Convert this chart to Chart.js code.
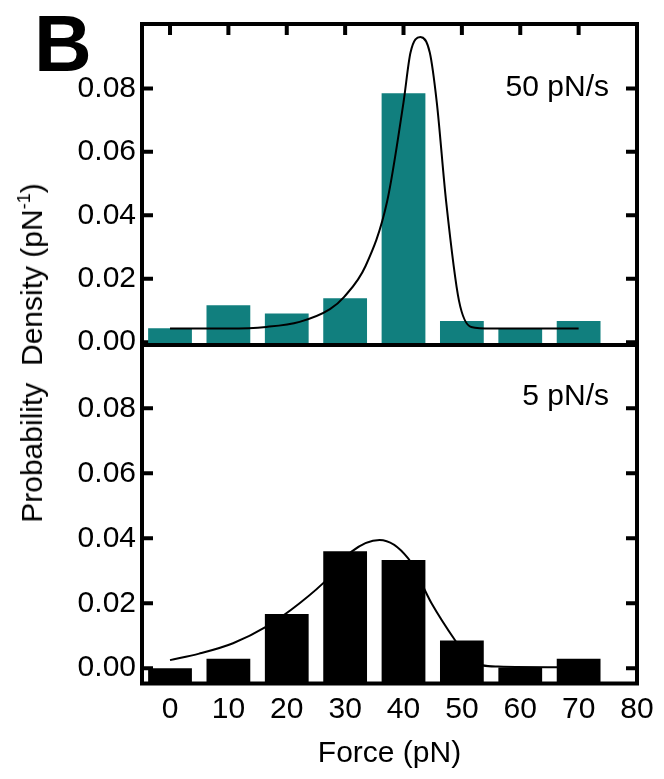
<html>
<head>
    <meta name="viewport" content="width=device-width, initial-scale=1.0">
    <title>Force histograms</title>
    <style>
        body { margin: 0; background: #fff; }
        #wrap { position: relative; width: 664px; height: 779px; font-family: 'Liberation Sans', Arial, sans-serif; color: #000; }
        canvas { position: absolute; left: 0; top: 0; }
        .txt { position: absolute; white-space: nowrap; font-size: 30px; line-height: 30px; }
        #panel { left: 34px; top: 4px; font-size: 80px; line-height: 80px; font-weight: bold; }
        #ytitle { left: 32px; top: 353px; transform: translate(-50%, -50%) rotate(-90deg); }
        #ytitle sup { font-size: 18px; line-height: 0; vertical-align: 12px; }
        #rate1 { right: 55px; top: 71px; }
        #rate2 { right: 55px; top: 380px; }
    </style>
</head>
<body>
<div id="wrap">
    <canvas id="topChart" width="664" height="779"></canvas>
    <canvas id="bottomChart" width="664" height="779"></canvas>
    <div class="txt" id="panel">B</div>
    <div class="txt" id="ytitle">Probability&nbsp; Density (pN<sup>-1</sup>)</div>
    <div class="txt" id="rate1">50 pN/s</div>
    <div class="txt" id="rate2">5 pN/s</div>
</div>
<script src="https://cdn.jsdelivr.net/npm/chart.js"></script>
<script>
    // histogram bins (pN)
    const forceBins = [0, 10, 20, 30, 40, 50, 60, 70]
    const xTicks = [0, 10, 20, 30, 40, 50, 60, 70, 80]
    const yTicks = [0, 0.02, 0.04, 0.06, 0.08]

    // 50 pN/s
    const fastDensity = [0.0044, 0.0116, 0.0090, 0.0138, 0.0785, 0.0067, 0.0044, 0.0067]
    const fastFitX = [0, 10, 16.5, 22.2, 27.4, 29.8, 33.5, 37.2, 40.0, 41.2, 42.9, 44.5, 45.7, 47.3, 49.5, 51.6, 55, 62, 70]
    const fastFitY = [0.0043, 0.0043, 0.0048, 0.0064, 0.0104, 0.0142, 0.0240, 0.0444, 0.0756, 0.0913, 0.0962, 0.0913, 0.0756, 0.0444, 0.0131, 0.0048, 0.0043, 0.0043, 0.0043]

    // 5 pN/s
    const slowDensity = [0.0000, 0.0029, 0.0167, 0.0360, 0.0333, 0.0085, 0.0002, 0.0029]
    const slowFitX = [0, 5, 10.8, 16.5, 22.2, 27.4, 31.1, 35.9, 40.8, 44.8, 48.8, 51.6, 56.2, 66.4, 70]
    const slowFitY = [0.0025, 0.0045, 0.0077, 0.0128, 0.0200, 0.0282, 0.0359, 0.0395, 0.0338, 0.0200, 0.0087, 0.0020, 0.0005, 0.0003, 0.0003]

    const TEAL = '#117f7e'
    const FONT = { family: "'Liberation Sans', Arial, sans-serif", size: 30 }

    // inward ticks + heavy frame
    const frame = {
        id: 'frame',
        beforeDatasetsDraw(chart, args, opts) {
            const { ctx, chartArea: a, scales } = chart
            ctx.save()
            ctx.strokeStyle = '#000'
            ctx.lineWidth = 4
            ctx.beginPath()
            yTicks.forEach(v => {
                const y = scales.y.getPixelForValue(v)
                ctx.moveTo(a.left, y); ctx.lineTo(a.left + 11, y)
                ctx.moveTo(a.right, y); ctx.lineTo(a.right - 11, y)
            })
            ;(opts.topTicks || []).forEach(v => {
                const x = scales.x.getPixelForValue(v)
                ctx.moveTo(x, a.top); ctx.lineTo(x, a.top + 11)
            })
            ;(opts.bottomTicks || []).forEach(v => {
                const x = scales.x.getPixelForValue(v)
                ctx.moveTo(x, a.bottom); ctx.lineTo(x, a.bottom - 11)
            })
            ctx.stroke()
            ctx.restore()
        },
        afterDatasetsDraw(chart) {
            const { ctx, chartArea: a } = chart
            ctx.save()
            ctx.strokeStyle = '#000'
            ctx.lineWidth = 4
            ctx.strokeRect(a.left, a.top, a.right - a.left, a.bottom - a.top)
            ctx.restore()
        }
    }

    const makeChart = (id, p) => {
        const bars = forceBins.map((x, i) => ({ x: x, y: p.density[i] }))
        const fit = p.fitX.map((x, i) => ({ x: x, y: p.fitY[i] }))

        const xAxis = {
            type: 'linear',
            min: -4.8,
            max: 80,
            offset: false,
            display: p.showX,
            afterBuildTicks: s => { s.ticks = xTicks.map(v => ({ value: v })) },
            grid: { display: false, drawTicks: false },
            border: { display: false },
            ticks: { font: FONT, color: '#000', padding: 8, maxRotation: 0, autoSkip: false },
            title: { display: true, text: 'Force (pN)', font: FONT, color: '#000', padding: { top: 0, bottom: 7 } },
            afterFit: s => { if (p.showX) s.height = 95.5 }
        }

        new Chart(document.getElementById(id), {
            type: 'bar',
            data: {
                datasets: [{
                    type: 'line',
                    data: fit,
                    borderColor: '#000',
                    borderWidth: 2,
                    pointRadius: 0,
                    cubicInterpolationMode: 'monotone',
                    order: 0
                }, {
                    type: 'bar',
                    data: bars,
                    backgroundColor: p.color,
                    base: p.yMin,
                    barPercentage: 0.75,
                    categoryPercentage: 1,
                    order: 1
                }]
            },
            options: {
                responsive: false,
                animation: false,
                devicePixelRatio: 1,
                layout: { padding: p.padding },
                plugins: {
                    legend: { display: false },
                    tooltip: { enabled: false },
                    frame: { topTicks: p.topTicks, bottomTicks: p.bottomTicks }
                },
                scales: {
                    x: xAxis,
                    y: {
                        min: p.yMin,
                        max: p.yMax,
                        afterBuildTicks: s => { s.ticks = yTicks.map(v => ({ value: v })) },
                        grid: { display: false, drawTicks: false },
                        border: { display: false },
                        ticks: { font: FONT, color: '#000', padding: 6, callback: v => v.toFixed(2) },
                        afterFit: s => { s.width = 142 }
                    }
                }
            },
            plugins: [frame]
        })
    }

    window.onload = () => {
        makeChart('topChart', {
            density: fastDensity, fitX: fastFitX, fitY: fastFitY,
            color: TEAL, yMin: -0.0009, yMax: 0.1003, showX: false,
            padding: { left: 0, right: 27, top: 21, bottom: 434 },
            topTicks: forceBins
        })
        makeChart('bottomChart', {
            density: slowDensity, fitX: slowFitX, fitY: slowFitY,
            color: '#000', yMin: -0.0047, yMax: 0.0995, showX: true,
            padding: { left: 0, right: 27, top: 345, bottom: 0 },
            bottomTicks: xTicks
        })
    }
</script>
</body>
</html>
